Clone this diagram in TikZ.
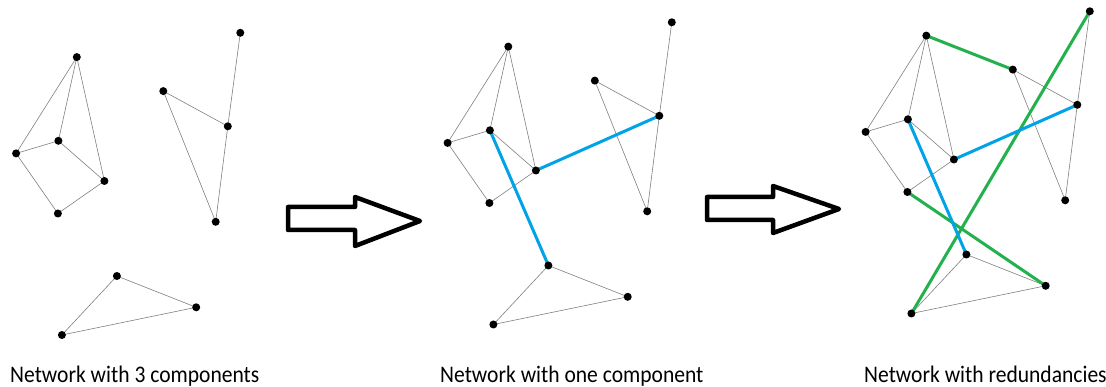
\documentclass[tikz,border=0pt]{standalone}
\usepackage{fontspec}
\setmainfont{Carlito}
\definecolor{linkblue}{RGB}{0,162,232}
\definecolor{linkgreen}{RGB}{34,177,76}
\tikzset{
  dot/.style={circle,fill=black,inner sep=0pt,minimum size=8pt},
  edge/.style={draw=black!50,line width=0.6pt},
  bluelink/.style={draw=linkblue,line width=3pt},
  greenlink/.style={draw=linkgreen,line width=3pt},
  blockarrow/.style={draw=black,line width=4.5pt,line join=round,fill=white},
  caption/.style={anchor=base west,inner sep=0pt,font=\fontsize{22}{26}\selectfont}
}
\newcommand{\drawnet}{%
  \coordinate (A) at (76.8,57.1);
  \coordinate (B) at (58.4,140.8);
  \coordinate (C) at (16.1,153.4);
  \coordinate (D) at (104.4,181);
  \coordinate (E) at (57.9,213.5);
  \coordinate (F) at (240.3,32.8);
  \coordinate (G) at (163.3,91.1);
  \coordinate (H) at (227.8,126.3);
  \coordinate (I) at (215.7,221.8);
  \coordinate (J) at (116.9,276);
  \coordinate (K) at (196.2,307.3);
  \coordinate (L) at (61.9,335);
  \draw[edge] (A) -- (C) (A) -- (B) (A) -- (D) (C) -- (B) (B) -- (D) (C) -- (E) (E) -- (D);
  \draw[edge] (F) -- (H) (G) -- (H) (H) -- (I) (G) -- (I);
  \draw[edge] (J) -- (K) (J) -- (L) (L) -- (K);
}
\newcommand{\drawdots}{%
  \foreach \n in {A,B,C,D,E,F,G,H,I,J,K,L} {\node[dot] (d\n) at (\n) {};}
}
\newcommand{\captext}[1]{\scalebox{0.98}[1.08]{#1}}
\begin{document}
\begin{tikzpicture}[x=1pt,y=-1pt]
\useasboundingbox[fill=white] (0,0) rectangle (1106,387);
% panel 1
\begin{scope}[name prefix=p1-]
  \drawnet
  \drawdots
\end{scope}
% panel 2
\begin{scope}[shift={(431.5,-10.5)},name prefix=p2-]
  \drawnet
  \draw[bluelink] (B) -- (J);
  \draw[bluelink] (D) -- (H);
  \drawdots
\end{scope}
% panel 3
\begin{scope}[shift={(849.5,-21.5)},name prefix=p3-]
  \drawnet
  \draw[greenlink] (A) -- (G);
  \draw[greenlink] (F) -- (L);
  \draw[greenlink] (E) -- (K);
  \draw[bluelink] (B) -- (J);
  \draw[bluelink] (D) -- (H);
  \drawdots
\end{scope}
% block arrows
\draw[blockarrow] (288,207) -- (355,207) -- (355,197) -- (420,221) -- (355,246) -- (355,230) -- (288,230) -- cycle;
\draw[blockarrow] (707,197) -- (773,197) -- (773,186) -- (839,209) -- (773,233) -- (773,220) -- (707,220) -- cycle;
% captions
\node[caption] (cap1) at (10,382) {\captext{Network with 3 components}};
\node[caption] (cap2) at (440,382) {\captext{Network with one component}};
\node[caption] (cap3) at (864,382) {\captext{Network with redundancies}};
\end{tikzpicture}
\end{document}
